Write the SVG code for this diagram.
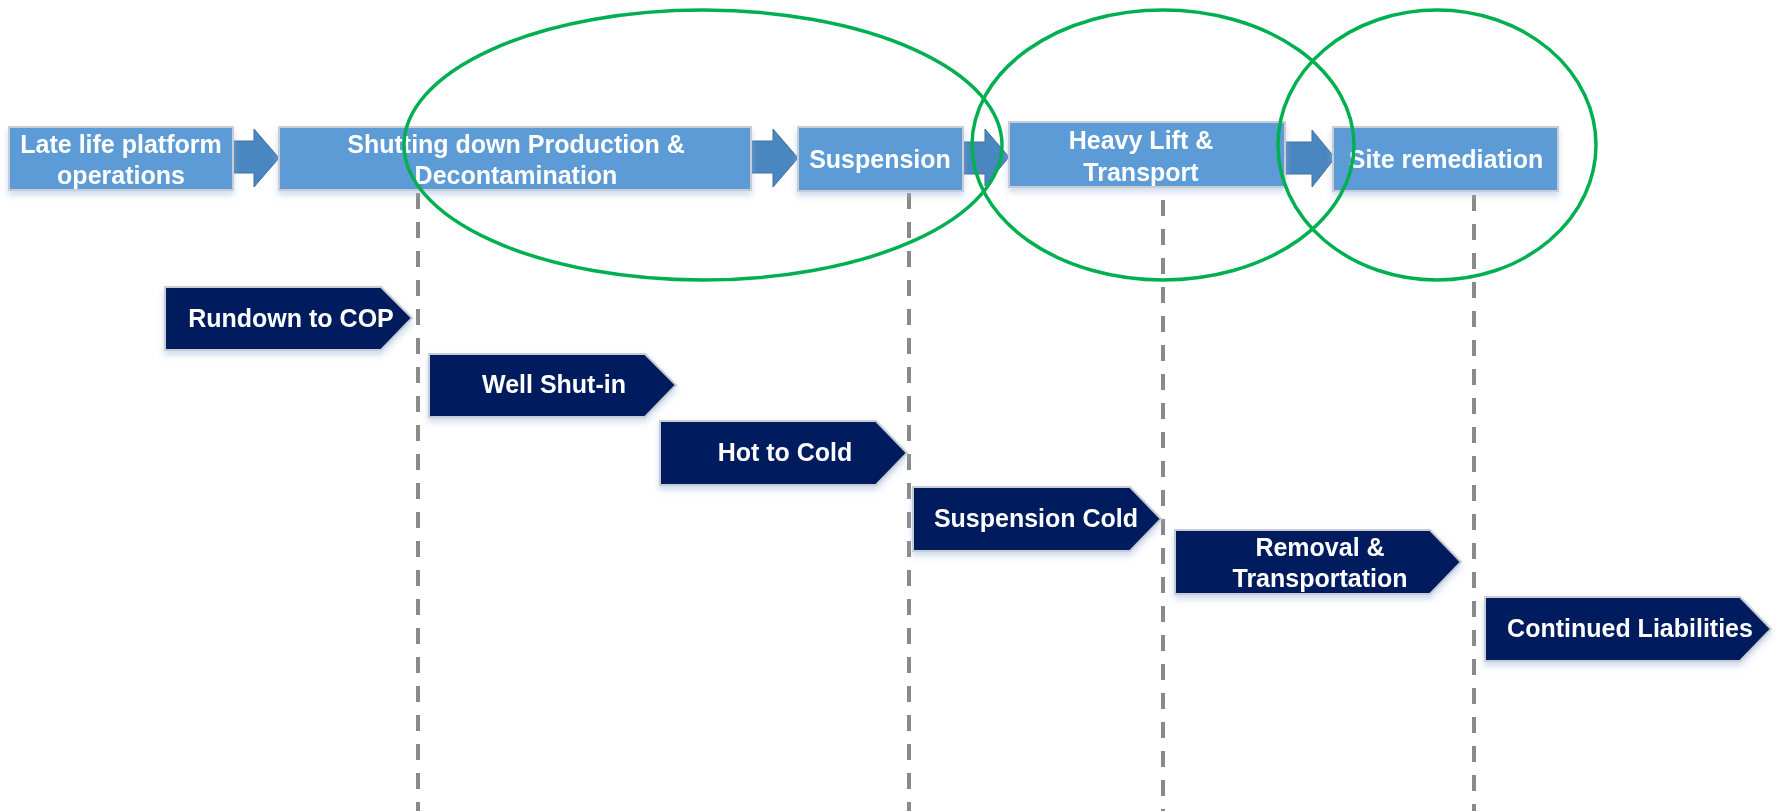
<svg xmlns="http://www.w3.org/2000/svg" width="1777" height="811" viewBox="0 0 1777 811">
<style>
.box{fill:#5B9BD5;stroke:#C9CDD3;stroke-width:2}
.arr{fill:#4A86C0;stroke:#3E70A0;stroke-width:1}
.chev{fill:#001F5E;stroke:#C9CDD3;stroke-width:2}
.t{font-family:"Liberation Sans",Arial,sans-serif;font-weight:bold;font-size:25px;fill:#FFFFFF;text-anchor:middle}
.dash{stroke:#8A8A8A;stroke-width:4;stroke-dasharray:16 13;fill:none}
.ell{fill:none;stroke:#00B050;stroke-width:3.5}
</style>
<defs>
<filter id="sh" x="-10%" y="-10%" width="120%" height="140%">
<feDropShadow dx="0" dy="4" stdDeviation="3" flood-color="#9DB8DA" flood-opacity="0.5"/>
</filter>
</defs>
<rect width="1777" height="811" fill="#FFFFFF"/>
<g id="connectors">
<line class="dash" x1="418" y1="193" x2="418" y2="811"/>
<line class="dash" x1="909" y1="193" x2="909" y2="811"/>
<line class="dash" x1="1163" y1="200" x2="1163" y2="811"/>
<line class="dash" x1="1474" y1="195" x2="1474" y2="811"/>
<polygon class="arr" points="233,141 254,141 254,129 279,158 254,187 254,173 233,173"/>
<polygon class="arr" points="751,141 773,141 773,129 798,158 773,187 773,173 751,173"/>
<polygon class="arr" points="961,142 985,142 985,129 1009,157 985,186 985,174 961,174"/>
<polygon class="arr" points="1285,142 1312,142 1312,130 1335,158 1312,187 1312,174 1285,174"/>
</g>
<g id="n1" filter="url(#sh)"><rect class="box" x="9" y="127" width="224" height="63"/>
<text class="t" x="121" y="153">Late life platform</text><text class="t" x="121" y="184">operations</text></g>
<g id="n2" filter="url(#sh)"><rect class="box" x="279" y="127" width="472" height="63"/>
<text class="t" x="516" y="153">Shutting down Production &amp;</text><text class="t" x="516" y="184">Decontamination</text></g>
<g id="n3" filter="url(#sh)"><rect class="box" x="798" y="127" width="165" height="64"/>
<text class="t" x="880" y="168">Suspension</text></g>
<g id="n4" filter="url(#sh)"><rect class="box" x="1009" y="122" width="276" height="65"/>
<text class="t" x="1141" y="149">Heavy Lift &amp;</text><text class="t" x="1141" y="181">Transport</text></g>
<g id="n5" filter="url(#sh)"><rect class="box" x="1333" y="127" width="225" height="64"/>
<text class="t" x="1446" y="168">Site remediation</text></g>
<g id="c1" filter="url(#sh)"><polygon class="chev" points="165,287 381,287 412,318 381,350 165,350"/>
<text class="t" x="291" y="327">Rundown to COP</text></g>
<g id="c2" filter="url(#sh)"><polygon class="chev" points="429,354 645,354 676,385 645,417 429,417"/>
<text class="t" x="554" y="393">Well Shut-in</text></g>
<g id="c3" filter="url(#sh)"><polygon class="chev" points="660,421 876,421 907,453 876,485 660,485"/>
<text class="t" x="785" y="461">Hot to Cold</text></g>
<g id="c4" filter="url(#sh)"><polygon class="chev" points="913,487 1130,487 1161,519 1130,551 913,551"/>
<text class="t" x="1036" y="527">Suspension Cold</text></g>
<g id="c5" filter="url(#sh)"><polygon class="chev" points="1175,530 1430,530 1461,562 1430,594 1175,594"/>
<text class="t" x="1320" y="556">Removal &amp;</text><text class="t" x="1320" y="587">Transportation</text></g>
<g id="c6" filter="url(#sh)"><polygon class="chev" points="1485,597 1740,597 1771,629 1740,661 1485,661"/>
<text class="t" x="1630" y="637">Continued Liabilities</text></g>
<g id="highlights">
<ellipse class="ell" cx="703" cy="145" rx="299" ry="135"/>
<ellipse class="ell" cx="1163" cy="145" rx="191" ry="135"/>
<ellipse class="ell" cx="1437" cy="145" rx="159" ry="135"/>
</g>
</svg>
